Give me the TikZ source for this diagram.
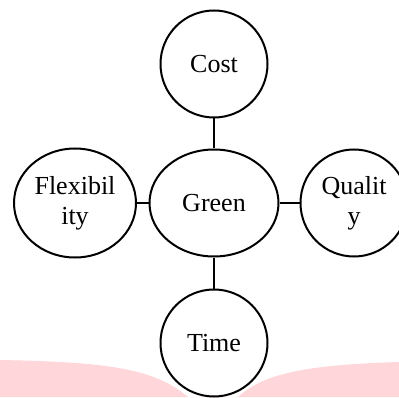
\documentclass[tikz,border=0pt]{standalone}
\usepackage{fontspec}
\setmainfont{Liberation Serif}
\usetikzlibrary{shapes.geometric}
\definecolor{pinkbg}{RGB}{255,214,217}
\tikzset{
  bub/.style={draw=black, line width=2pt, fill=white, ellipse, inner sep=0pt, align=center,
    font=\fontsize{26}{30}\selectfont},
  link/.style={draw=black, line width=2pt}
}
\begin{document}
\begin{tikzpicture}[x=1pt,y=1pt]
\useasboundingbox (0,0) rectangle (399,397);
\clip (0,0) rectangle (399,397);
\fill[pinkbg] (0,37) .. controls (110,35) and (155,28) .. (188,0) -- (238,0)
  .. controls (262,22) and (300,32) .. (399,35) -- (399,0) -- (0,0) -- cycle;
\node[bub, minimum width=107pt, minimum height=107pt] (cost) at (214,333) {Cost};
\node[bub, minimum width=129pt, minimum height=107pt] (green) at (214,194) {Green};
\node[bub, minimum width=122pt, minimum height=109pt] (flex) at (75,194) {Flexibil\\ity};
\node[bub, minimum width=107pt, minimum height=107pt] (qual) at (354,194) {Qualit\\y};
\node[bub, minimum width=107pt, minimum height=107pt] (time) at (214,54) {Time};
\draw[link] (cost.south) -- (green.north);
\draw[link] (green.south) -- (time.north);
\draw[link] (flex.east) -- (green.west);
\draw[link] (green.east) -- (qual.west);
\end{tikzpicture}
\end{document}
